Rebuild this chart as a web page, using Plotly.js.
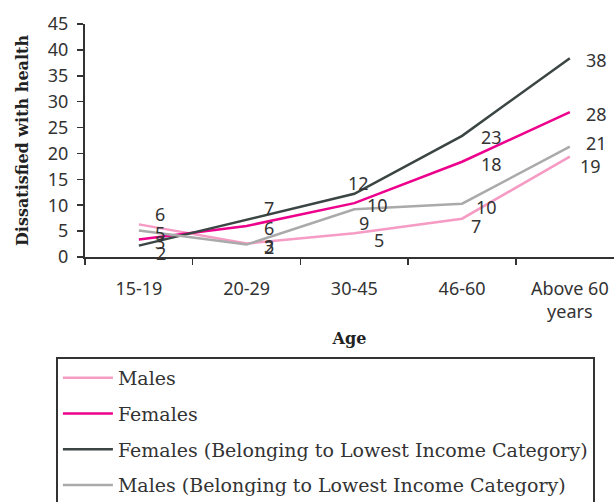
<!DOCTYPE html>
<html>
<head>
<meta charset="utf-8">
<script src="https://cdn.plot.ly/plotly-3.0.1.min.js"></script>
<style>html,body{margin:0;padding:0;overflow:hidden;background:#fff;}</style>
</head>
<body>
<div id="chart" style="width:614px;height:502px;"></div>
<script>
const categories = ['15-19', '20-29', '30-45', '46-60', 'Above 60<br>years'];
const seriesNames = ['Males', 'Females', 'Females (Belonging to Lowest Income Category)', 'Males (Belonging to Lowest Income Category)'];
const males = [6.3, 2.6, 4.6, 7.4, 19.4];
const females = [3.4, 6.0, 10.4, 18.4, 28.0];
const femalesLow = [2.2, 7.2, 12.2, 23.4, 38.4];
const malesLow = [5.1, 2.4, 9.2, 10.3, 21.3];

// styling
const colors = ['#F59BC4', '#EC008C', '#3B4543', '#AAAAAA'];
// label offsets in px (dx, dy) per series, per point
const labelShifts = [
  [[21, -10], [22, 2], [25, 7], [14, 7], [21, 9]],
  [[21, 3], [22, 2], [23, 2], [29, 2], [27, 2]],
  [[22, 7], [22, -12], [4, -11], [29, 1], [27, 2]],
  [[21, 2], [22, 2], [10, 14], [24, 3], [27, -4]]
];

const allSeries = [males, females, femalesLow, malesLow];

const traces = allSeries.map((vals, i) => ({
  type: 'scatter',
  mode: 'lines',
  x: categories,
  y: vals,
  name: seriesNames[i],
  legendgroup: 'g' + i,
  line: {color: colors[i], width: 2.5},
  hoverinfo: 'skip'
}));

const annotations = [];
allSeries.forEach((vals, i) => {
  vals.forEach((v, j) => {
    annotations.push({
      xref: 'x', yref: 'y',
      x: categories[j], y: v,
      text: String(Math.round(v)),
      showarrow: false,
      xanchor: 'center', yanchor: 'middle',
      xshift: labelShifts[i][j][0],
      yshift: -labelShifts[i][j][1],
      font: {family: 'Noto Sans', size: 18, color: '#333'}
    });
  });
});

const layout = {
  width: 614, height: 502,
  margin: {l: 85, r: 0, t: 24, b: 245, pad: 0, autoexpand: false},
  paper_bgcolor: '#ffffff', plot_bgcolor: '#ffffff',
  font: {family: 'Noto Sans', size: 18, color: '#333'},
  showlegend: true,
  xaxis: {
    type: 'category',
    range: [-0.5, 4.41],
    tickson: 'boundaries',
    ticks: 'outside', ticklen: 6, tickwidth: 1.5, tickcolor: '#333',
    showline: true, linecolor: '#333', linewidth: 2,
    showgrid: false, zeroline: false, automargin: false,
    tickfont: {family: 'Noto Sans', size: 18, color: '#333'},
    ticklabelstandoff: 14,
    title: {text: '<b>Age</b>', font: {family: 'DejaVu Serif', size: 16, color: '#222'}, standoff: 11}
  },
  yaxis: {
    range: [0, 45], dtick: 5, tick0: 0,
    ticks: 'outside', ticklen: 6, tickwidth: 1.5, tickcolor: '#333',
    showline: true, linecolor: '#333', linewidth: 2,
    showgrid: false, zeroline: false, automargin: true,
    tickfont: {family: 'Noto Sans', size: 18, color: '#333'},
    ticklabelstandoff: 5,
    title: {text: '<b>Dissatisfied with health</b>', font: {family: 'DejaVu Serif', size: 16, color: '#222'}, standoff: 15}
  },
  legend: {
    x: -0.055, y: -0.429, xanchor: 'left', yanchor: 'top',
    xref: 'paper', yref: 'paper',
    bordercolor: '#333', borderwidth: 2, bgcolor: '#ffffff',
    font: {family: 'DejaVu Serif', size: 19, color: '#333'},
    tracegroupgap: 8, itemwidth: 50, traceorder: 'grouped'
  },
  annotations: annotations
};

Plotly.newPlot('chart', traces, layout, {displayModeBar: false, staticPlot: true});
</script>
</body>
</html>
